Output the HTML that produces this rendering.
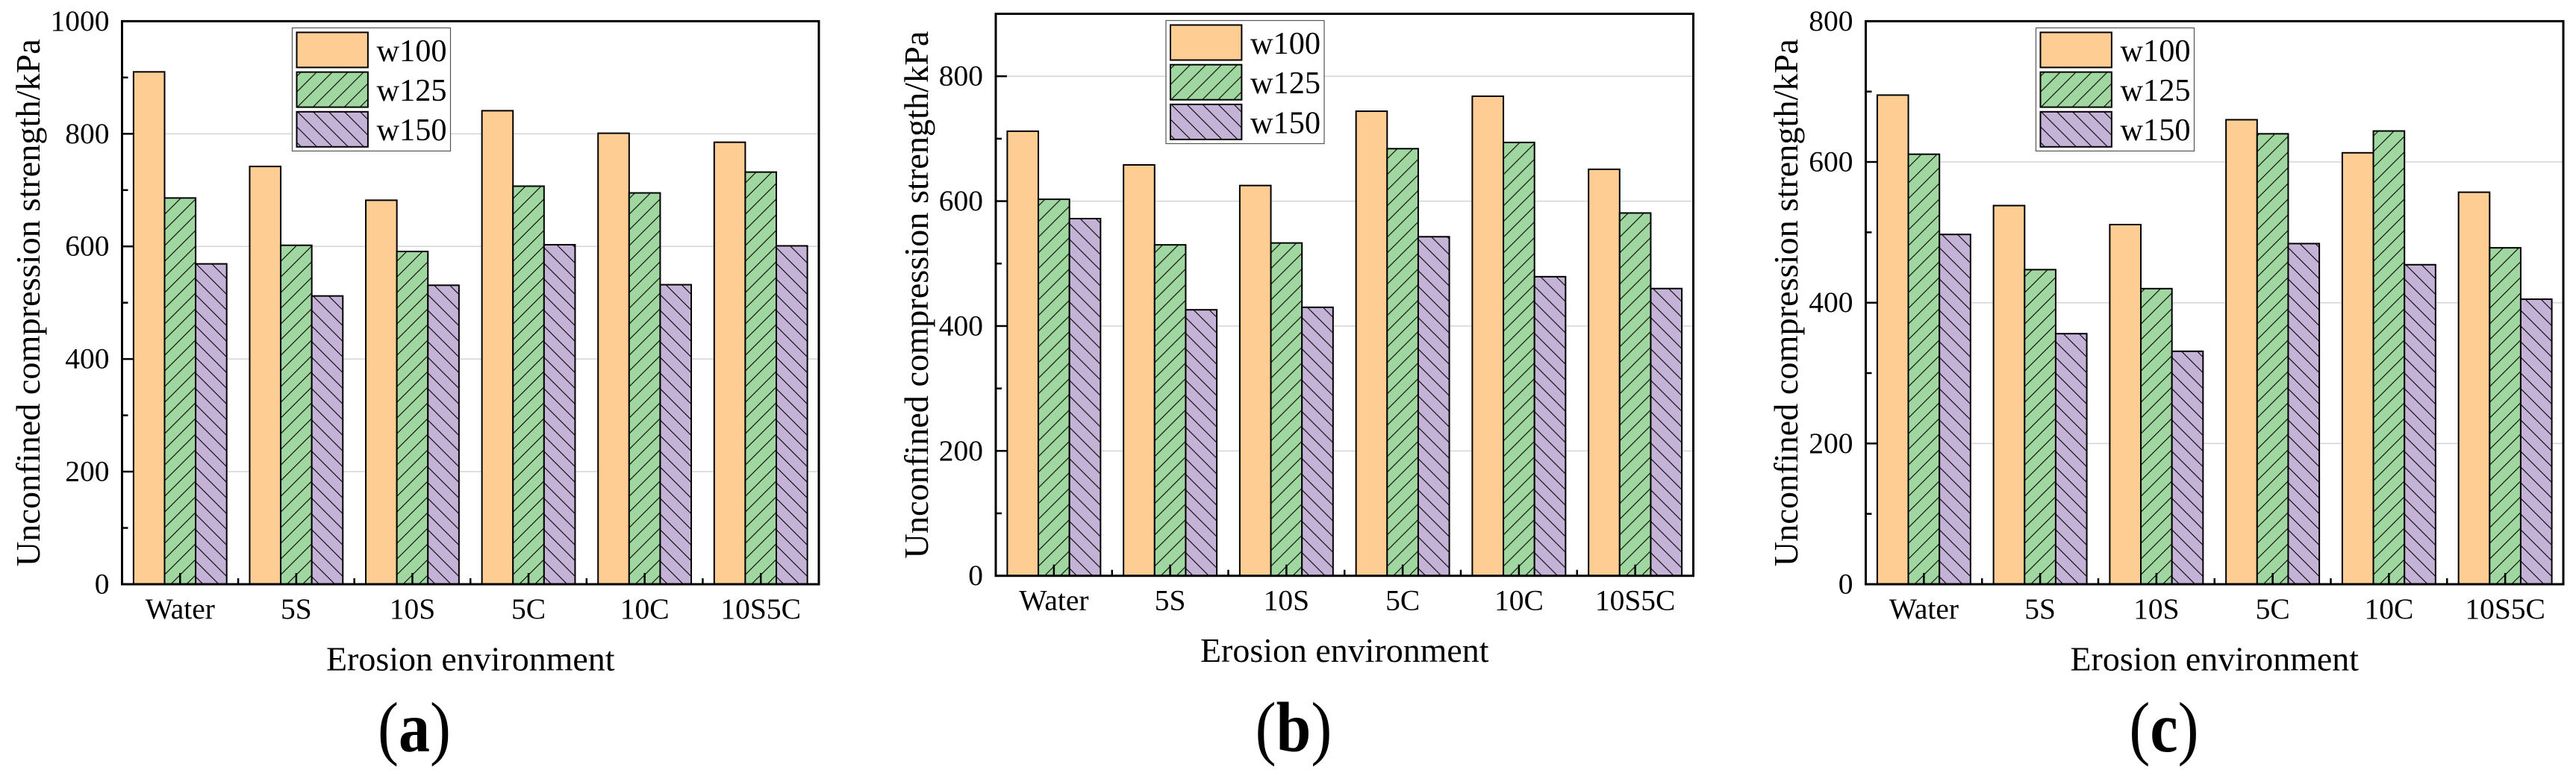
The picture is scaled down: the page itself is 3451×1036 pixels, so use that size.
<!DOCTYPE html>
<html lang="en">
<head>
<meta charset="utf-8">
<title>Unconfined compression strength by erosion environment</title>
<style>
html,body{margin:0;padding:0;background:#fff;width:3451px;height:1036px;overflow:hidden}
svg{display:block;font-family:"Liberation Serif",serif}
</style>
</head>
<body>
<svg id="figure" xmlns="http://www.w3.org/2000/svg" width="3451" height="1036" viewBox="0 0 3451 1036">
  <defs>
    <pattern id="hatch-green" patternUnits="userSpaceOnUse" width="21" height="21" patternTransform="translate(8.3 0)">
      <path d="M-3,3 L3,-3 M0,21 L21,0 M18,24 L24,18" stroke="#000" stroke-width="1.1" fill="none"/>
    </pattern>
    <pattern id="hatch-purple" patternUnits="userSpaceOnUse" width="21" height="21" patternTransform="translate(0 11)">
      <path d="M-3,18 L3,24 M0,0 L21,21 M18,-3 L24,3" stroke="#000" stroke-width="1.1" fill="none"/>
    </pattern>
    <pattern id="hatch-green-legend" patternUnits="userSpaceOnUse" width="21" height="21" patternTransform="translate(0.7 0)">
      <path d="M-3,3 L3,-3 M0,21 L21,0 M18,24 L24,18" stroke="#000" stroke-width="1.1" fill="none"/>
    </pattern>
    <pattern id="hatch-purple-legend" patternUnits="userSpaceOnUse" width="21" height="21" patternTransform="translate(0 15)">
      <path d="M-3,18 L3,24 M0,0 L21,21 M18,-3 L24,3" stroke="#000" stroke-width="1.1" fill="none"/>
    </pattern>
  </defs>
</svg>
<script>
const categories = ['Water', '5S', '10S', '5C', '10C', '10S5C'];
const seriesNames = ['w100', 'w125', 'w150'];

const panelA_w100 = [910, 742, 682, 841, 801, 785];
const panelA_w125 = [686, 602, 591, 707, 695, 732];
const panelA_w150 = [569, 512, 531, 603, 532, 601];
const panelA_ticks = [0, 200, 400, 600, 800, 1000];

const panelB_w100 = [712, 658, 625, 744, 768, 651];
const panelB_w125 = [603, 530, 533, 684, 694, 581];
const panelB_w150 = [572, 426, 430, 543, 479, 460];
const panelB_ticks = [0, 200, 400, 600, 800];

const panelC_w100 = [695, 538, 511, 660, 613, 557];
const panelC_w125 = [611, 447, 420, 640, 644, 478];
const panelC_w150 = [497, 356, 331, 484, 454, 405];
const panelC_ticks = [0, 200, 400, 600, 800];

const panels = [
  {id:'a', left:163.5, right:1097, top:28.4, bottom:783, yMax:1000, titleOffset:110.5, capX:555, capBold:'a',
   series:[panelA_w100, panelA_w125, panelA_w150], ticks:panelA_ticks},
  {id:'b', left:1334, right:2268.5, top:18.5, bottom:771.7, yMax:900, titleOffset:91, capX:1733, capBold:'b',
   series:[panelB_w100, panelB_w125, panelB_w150], ticks:panelB_ticks},
  {id:'c', left:2499.5, right:3434, top:28.4, bottom:783, yMax:800, titleOffset:91.5, capX:2899, capBold:'c',
   series:[panelC_w100, panelC_w125, panelC_w150], ticks:panelC_ticks}
];

const fills = ['#FECD94', 'url(#hatch-green)', 'url(#hatch-purple)'];
const legendFills = ['#FECD94', 'url(#hatch-green-legend)', 'url(#hatch-purple-legend)'];
const bases = ['#FECD94', '#A0D69F', '#C4B3D6'];

const svg = document.getElementById('figure');
const NS = 'http://www.w3.org/2000/svg';

function mk(tag, attrs, parent, text) {
  const el = document.createElementNS(NS, tag);
  for (const k in attrs) el.setAttribute(k, attrs[k]);
  if (text !== undefined) el.textContent = text;
  parent.appendChild(el);
  return el;
}

function drawPanel(p) {
  const g = mk('g', {}, svg);
  
  

  const band = (p.right - p.left) / categories.length;
  const barW = band * 0.2674;
  const xScale = i => p.left + band * (i + 0.5);
  const yScale = v => p.bottom - (v / p.yMax) * (p.bottom - p.top);

  // gridlines
  p.ticks.forEach(t => {
    if (t === 0 || t === p.yMax) return;
    const grid = mk('line', {x1:p.left, x2:p.right, y1:yScale(t), y2:yScale(t), stroke:'#d4d4d4', 'stroke-width':1.5}, g);
    
    
  });

  // bars: each is drawn in a local frame at its bottom-left corner so the hatch phase follows the bar
  p.series.forEach((vals, s) => {
    vals.forEach((v, i) => {
      const x = xScale(i) + (s - 1.5) * barW;
      const h = p.bottom - yScale(v);
      const tf = 'translate(' + x + ' ' + p.bottom + ')';
      const base = mk('rect', {x:0, y:-h, width:barW, height:h, fill:bases[s], stroke:'none', transform:tf}, g);
      
      
      const bar = mk('rect', {x:0, y:-h, width:barW, height:h, fill:fills[s], stroke:'#000', 'stroke-width':2, transform:tf}, g);
      
      
    });
  });

  // frame
  const frame = mk('rect', {x:p.left, y:p.top, width:p.right - p.left, height:p.bottom - p.top, fill:'none', stroke:'#000', 'stroke-width':3}, g);
  
  

  // y ticks and labels
  const minorStep = p.ticks[1] / 2;
  for (let v = 0; v <= p.yMax; v += minorStep) {
    const major = p.ticks.includes(v);
    const tick = mk('line', {x1:p.left, x2:p.left + (major ? 15 : 8), y1:yScale(v), y2:yScale(v), stroke:'#000', 'stroke-width':2.5}, g);
    
    
  }
  p.ticks.forEach(t => {
    const lab = mk('text', {x:p.left - 17, y:yScale(t) + 12.5, 'text-anchor':'end', 'font-size':39.5, fill:'#000'}, g, String(t));
    
    
  });

  // x ticks and labels
  categories.forEach((c, i) => {
    const tick = mk('line', {x1:xScale(i), x2:xScale(i), y1:p.bottom, y2:p.bottom - 15, stroke:'#000', 'stroke-width':2.5}, g);
    
    
    if (i < categories.length - 1) {
      const minor = mk('line', {x1:xScale(i) + band / 2, x2:xScale(i) + band / 2, y1:p.bottom, y2:p.bottom - 8, stroke:'#000', 'stroke-width':2.5}, g);
      
      
    }
    const lab = mk('text', {x:xScale(i), y:p.bottom + 46, 'text-anchor':'middle', 'font-size':39.5, fill:'#000'}, g, c);
    
    
  });

  // axis titles
  const cx = (p.left + p.right) / 2;
  const cy = (p.top + p.bottom) / 2;
  const xt = mk('text', {x:cx, y:p.bottom + 115.5, 'text-anchor':'middle', 'font-size':46, textLength:386.5, lengthAdjust:'spacingAndGlyphs', fill:'#000'}, g, 'Erosion environment');
  
  
  const ytX = p.left - p.titleOffset;
  const yt = mk('text', {x:ytX, y:cy, 'text-anchor':'middle', 'font-size':46, textLength:707, lengthAdjust:'spacingAndGlyphs', fill:'#000', transform:'rotate(-90 ' + ytX + ' ' + cy + ')'}, g, 'Unconfined compression strength/kPa');
  
  

  // legend
  const lx = p.left + 228;
  const ly = p.top + 9;
  const legend = mk('g', {}, g);
  
  
  mk('rect', {x:lx, y:ly, width:212, height:165, fill:'#fff', stroke:'#555', 'stroke-width':1.2}, legend);
  seriesNames.forEach((name, s) => {
    const sy = ly + 6 + s * 53.2;
    const tf = 'translate(' + (lx + 6) + ' ' + (sy + 47) + ')';
    const base = mk('rect', {x:0, y:-47, width:95.4, height:47, fill:bases[s], transform:tf}, legend);
    
    
    const sw = mk('rect', {x:0, y:-47, width:95.4, height:47, fill:legendFills[s], stroke:'#000', 'stroke-width':2, transform:tf}, legend);
    
    
    const txt = mk('text', {x:lx + 113, y:sy + 38.4, 'font-size':42.3, fill:'#000'}, legend, name);
    
    
  });

  // caption, stretched vertically as in the source figure
  const cap = mk('text', {x:0, y:0, 'text-anchor':'middle', 'font-size':84, fill:'#000', transform:'translate(' + p.capX + ' 1007) scale(1 1.13)'}, g);
  
  
  mk('tspan', {}, cap, '(');
  mk('tspan', {'font-weight':'bold'}, cap, p.capBold);
  mk('tspan', {}, cap, ')');
}

panels.forEach(drawPanel);
</script>
</body>
</html>
